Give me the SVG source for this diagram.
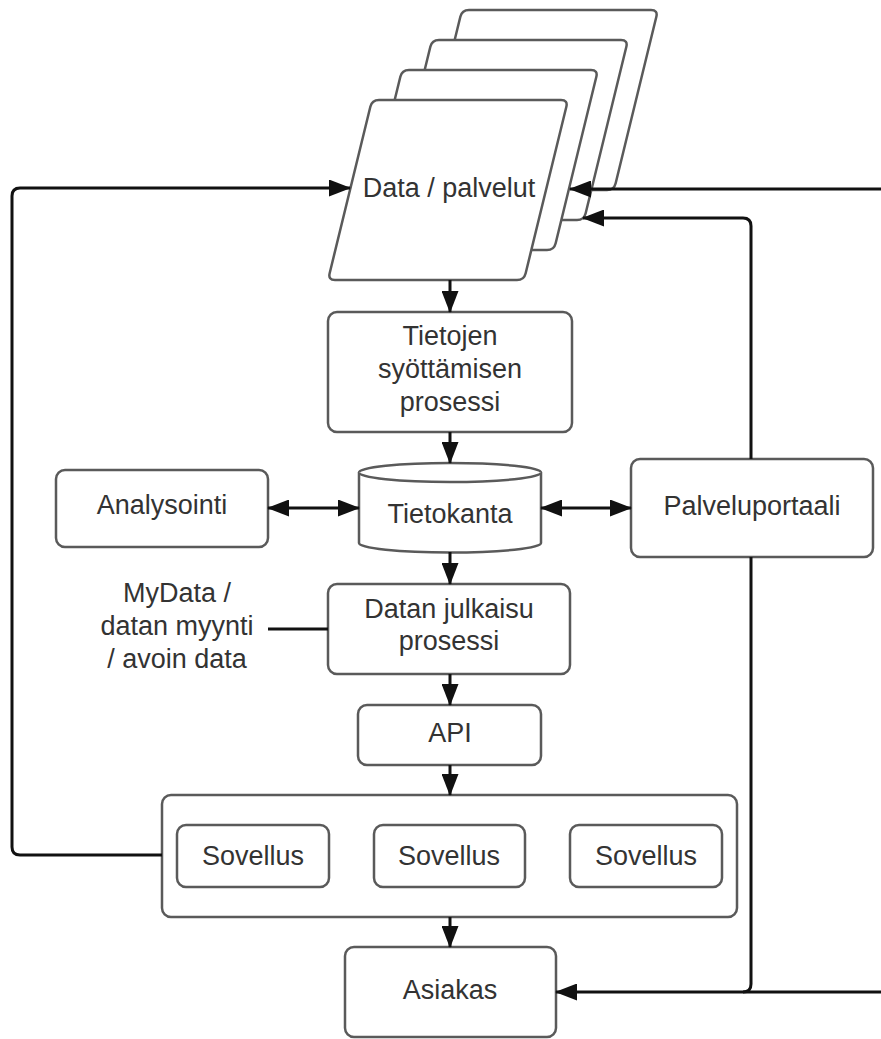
<svg xmlns="http://www.w3.org/2000/svg" xmlns:xlink="http://www.w3.org/1999/xlink" width="881" height="1039" viewBox="0 0 881 1039">
<style>
.node{fill:#fff;stroke:#5a5a5a;stroke-width:2.5;}
.conn{fill:none;stroke:#111;stroke-width:3;}
.t{font-family:"Liberation Sans",Arial,sans-serif;font-size:27px;fill:#333;text-anchor:middle;}
</style>
<defs>
<marker id="ah" viewBox="0 0 22 17" refX="21" refY="8.5" markerWidth="22" markerHeight="17" markerUnits="userSpaceOnUse" orient="auto-start-reverse">
<path d="M0,0 L22,8.5 L0,17 Z" fill="#111"/>
</marker>
<path id="para" d="M7,0 L189,0 Q196,0 194.34,6.8 L153.66,173.2 Q152,180 145,180 L-37,180 Q-44,180 -42.34,173.2 L-1.66,6.8 Q0,0 7,0 Z"/>
</defs>
<rect width="881" height="1039" fill="#fff"/>

<g id="data-palvelut">
<use xlink:href="#para" href="#para" class="node" x="462" y="10"/>
<use xlink:href="#para" href="#para" class="node" x="432" y="40"/>
<use xlink:href="#para" href="#para" class="node" x="402" y="70"/>
<use xlink:href="#para" href="#para" class="node" x="372" y="100"/>
<text class="t" x="449" y="197">Data / palvelut</text>
</g>

<g id="tietojen">
<rect class="node" x="328" y="312" width="244" height="120" rx="9"/>
<text class="t" x="450" y="345">Tietojen</text>
<text class="t" x="450" y="378">syöttämisen</text>
<text class="t" x="450" y="411">prosessi</text>
</g>

<g id="tietokanta">
<path class="node" d="M359,472.5 L359,543 A91,9.5 0 0 0 541,543 L541,472.5 A91,9.5 0 0 0 359,472.5 Z"/>
<path class="node" fill="none" d="M359,472.5 A91,9.5 0 0 0 541,472.5"/>
<text class="t" x="450" y="523">Tietokanta</text>
</g>

<g id="analysointi">
<rect class="node" x="56" y="470" width="212" height="77" rx="9"/>
<text class="t" x="162" y="514">Analysointi</text>
</g>

<g id="palveluportaali">
<rect class="node" x="631" y="459" width="242" height="98" rx="9"/>
<text class="t" x="752" y="515">Palveluportaali</text>
</g>

<g id="mydata">
<text class="t" x="177" y="602">MyData /</text>
<text class="t" x="177" y="635">datan myynti</text>
<text class="t" x="177" y="668">/ avoin data</text>
</g>

<g id="datan-julkaisu">
<rect class="node" x="328" y="584" width="242" height="90" rx="9"/>
<text class="t" x="449" y="618">Datan julkaisu</text>
<text class="t" x="449" y="650">prosessi</text>
</g>

<g id="api">
<rect class="node" x="358" y="705" width="183" height="60" rx="9"/>
<text class="t" x="450" y="742">API</text>
</g>

<g id="sovellukset">
<rect class="node" x="162" y="795" width="575" height="122" rx="9"/>
<g id="sovellus1">
<rect class="node" x="177" y="825" width="152" height="62" rx="9"/>
<text class="t" x="253" y="865">Sovellus</text>
</g>
<g id="sovellus2">
<rect class="node" x="374" y="825" width="151" height="62" rx="9"/>
<text class="t" x="449" y="865">Sovellus</text>
</g>
<g id="sovellus3">
<rect class="node" x="570" y="825" width="152" height="62" rx="9"/>
<text class="t" x="646" y="865">Sovellus</text>
</g>
</g>

<g id="asiakas">
<rect class="node" x="345" y="947" width="211" height="90" rx="9"/>
<text class="t" x="450" y="999">Asiakas</text>
</g>

<g id="connectors">
<path class="conn" d="M450,280 L450,312" marker-end="url(#ah)"/>
<path class="conn" d="M450,432 L450,463" marker-end="url(#ah)"/>
<path class="conn" d="M268,508 L359,508" marker-start="url(#ah)" marker-end="url(#ah)"/>
<path class="conn" d="M541,508 L631,508" marker-start="url(#ah)" marker-end="url(#ah)"/>
<path class="conn" d="M450,552 L450,584" marker-end="url(#ah)"/>
<path class="conn" d="M268,629 L328,629"/>
<path class="conn" d="M450,674 L450,705" marker-end="url(#ah)"/>
<path class="conn" d="M450,765 L450,795" marker-end="url(#ah)"/>
<path class="conn" d="M450,917 L450,947" marker-end="url(#ah)"/>
<path class="conn" d="M162,855 L20,855 Q12,855 12,847 L12,196 Q12,188 20,188 L350,188" marker-end="url(#ah)"/>
<path class="conn" d="M881,189 L570,189" marker-end="url(#ah)"/>
<path class="conn" d="M743,992 Q751,992 751,984 L751,557 M751,459 L751,226 Q751,218 743,218 L583,218" marker-end="url(#ah)"/>
<path class="conn" d="M881,992 L556,992" marker-end="url(#ah)"/>
</g>
</svg>
